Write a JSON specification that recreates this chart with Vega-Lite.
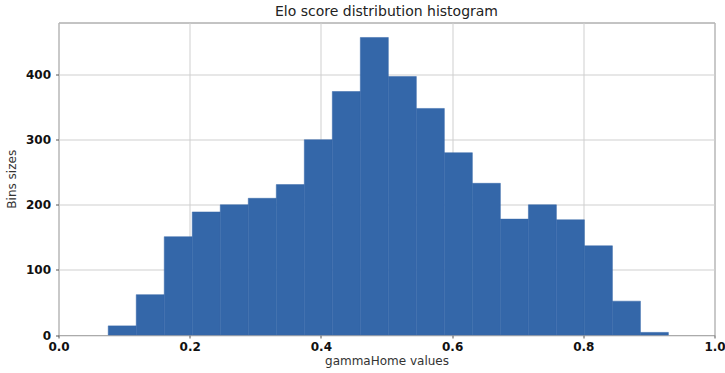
{
  "$schema": "https://vega.github.io/schema/vega-lite/v6.json",
  "autosize": "none",
  "width": 656,
  "height": 312.5,
  "padding": {"left": 58.5, "top": 22.5, "right": 10.5, "bottom": 38},
  "title": {"text": "Elo score distribution histogram", "fontSize": 14, "fontWeight": "normal", "font": "DejaVu Sans", "color": "#222", "offset": 4},
  "config": {
    "view": {"stroke": "#888", "strokeWidth": 1},
    "axis": {"labelFont": "DejaVu Sans", "titleFont": "DejaVu Sans", "labelFontWeight": "bold", "labelFontSize": 12, "labelColor": "#111", "titleFontWeight": "normal", "titleFontSize": 12, "titleColor": "#333", "gridColor": "#cfcfcf", "domain": false, "tickColor": "#555", "tickSize": 3, "labelFlush": false}
  },
  "data": {"values": [
    {"start": 0.0758, "end": 0.1185, "count": 14},
    {"start": 0.1185, "end": 0.1612, "count": 62},
    {"start": 0.1612, "end": 0.2039, "count": 151},
    {"start": 0.2039, "end": 0.2466, "count": 189},
    {"start": 0.2466, "end": 0.2893, "count": 200},
    {"start": 0.2893, "end": 0.3320, "count": 210},
    {"start": 0.3320, "end": 0.3747, "count": 231},
    {"start": 0.3747, "end": 0.4174, "count": 300},
    {"start": 0.4174, "end": 0.4601, "count": 374},
    {"start": 0.4601, "end": 0.5028, "count": 457},
    {"start": 0.5028, "end": 0.5455, "count": 397},
    {"start": 0.5455, "end": 0.5882, "count": 348},
    {"start": 0.5882, "end": 0.6309, "count": 280},
    {"start": 0.6309, "end": 0.6736, "count": 233},
    {"start": 0.6736, "end": 0.7163, "count": 178},
    {"start": 0.7163, "end": 0.7590, "count": 200},
    {"start": 0.7590, "end": 0.8017, "count": 177},
    {"start": 0.8017, "end": 0.8444, "count": 137},
    {"start": 0.8444, "end": 0.8871, "count": 52},
    {"start": 0.8871, "end": 0.9297, "count": 4}
  ]},
  "mark": {"type": "rect", "fill": "#3467a9", "stroke": "#3467a9", "strokeWidth": 0.5},
  "encoding": {
    "x": {"field": "start", "type": "quantitative", "scale": {"domain": [0, 1], "nice": false, "zero": false},
      "axis": {"values": [0, 0.2, 0.4, 0.6, 0.8, 1.0], "format": ".1f", "title": "gammaHome values", "labelPadding": 3, "titlePadding": 3}},
    "x2": {"field": "end"},
    "y": {"field": "count", "type": "quantitative", "scale": {"domain": [0, 480], "nice": false},
      "axis": {"values": [0, 100, 200, 300, 400], "title": "Bins sizes", "labelPadding": 5, "titlePadding": 7}}
  }
}
